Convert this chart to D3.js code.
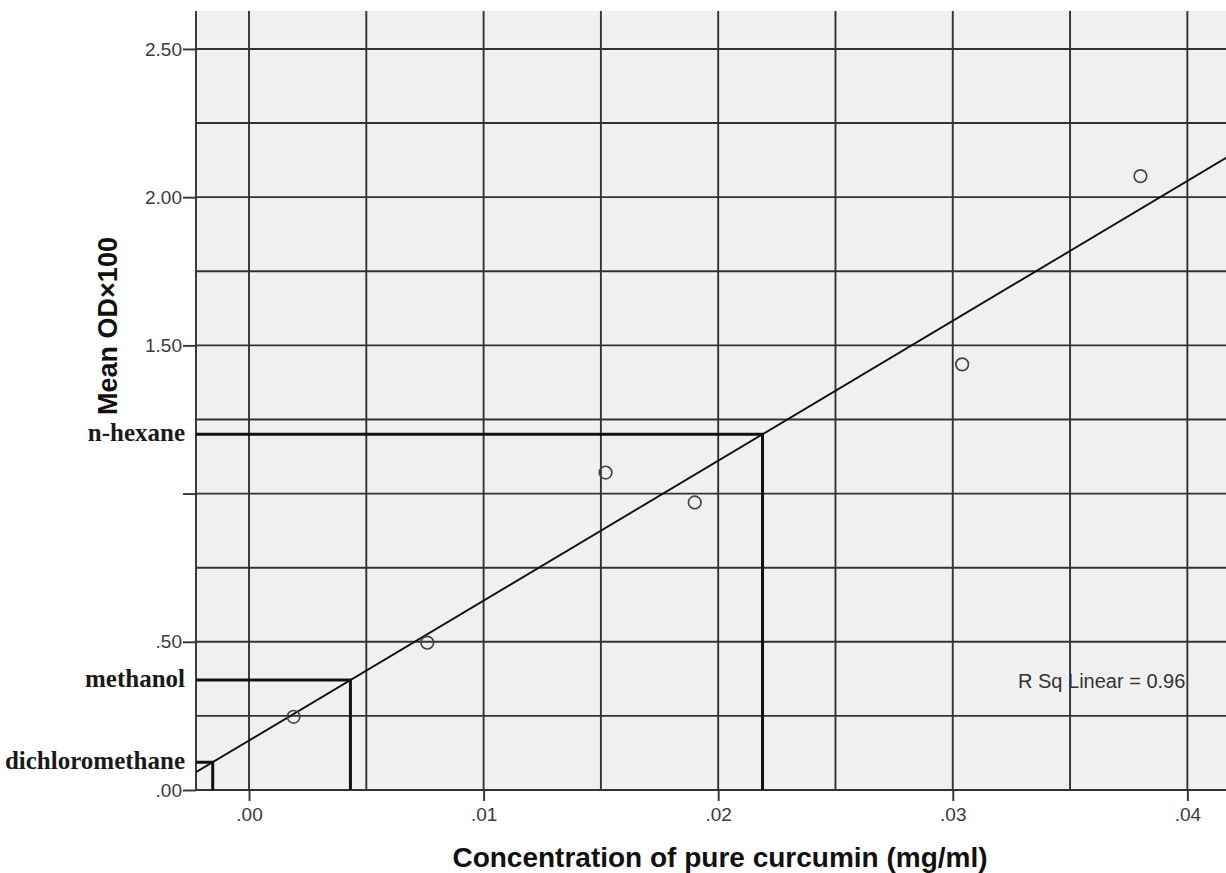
<!DOCTYPE html>
<html>
<head>
<meta charset="utf-8">
<script src="https://cdn.jsdelivr.net/npm/d3@7"></script>
<style>
  body { margin: 0; background: #fff; }
  svg { display: block; }
</style>
</head>
<body>
<svg id="chart" width="1226" height="873"></svg>
<script>
(function() {
  // standards: concentration (mg/ml) vs mean OD x100
  const concentrations = [0.0019, 0.0076, 0.0152, 0.0190, 0.0304, 0.0380];
  const meanOD = [0.247, 0.497, 1.071, 0.970, 1.436, 2.071];

  // extracts read back through the calibration line
  const sampleNames = ['n-hexane', 'methanol', 'dichloromethane'];
  const sampleOD = [1.20, 0.371, 0.094];

  const xTickValues = [0, 0.01, 0.02, 0.03, 0.04];
  const xTickLabels = ['.00', '.01', '.02', '.03', '.04'];
  const yTickValues = [0, 0.5, 1, 1.5, 2, 2.5];
  const yTickLabels = ['.00', '.50', '', '1.50', '2.00', '2.50'];

  const left = 196, top = 11, bottom = 790, right = 1246;

  const x = d3.scaleLinear().domain([-0.00226, 0.0425]).range([left, right]);
  const y = d3.scaleLinear().domain([0, 2.628]).range([bottom, top]);

  // least squares fit
  const mx = d3.mean(concentrations), my = d3.mean(meanOD);
  let sxy = 0, sxx = 0, syy = 0;
  concentrations.forEach((c, i) => {
    sxy += (c - mx) * (meanOD[i] - my);
    sxx += (c - mx) * (c - mx);
    syy += (meanOD[i] - my) * (meanOD[i] - my);
  });
  const slope = sxy / sxx;
  const intercept = my - slope * mx;
  const rsq = (slope * sxy) / syy;

  const svg = d3.select('#chart');

  svg.append('defs').append('clipPath').attr('id', 'plot-clip')
    .append('rect')
    .attr('x', left).attr('y', top)
    .attr('width', right - left).attr('height', bottom - top);

  svg.append('rect')
    .attr('x', left).attr('y', top)
    .attr('width', right - left).attr('height', bottom - top)
    .attr('fill', '#f0f0f0');

  const grid = svg.append('g')
    .attr('stroke', '#333')
    .attr('stroke-width', 1.9);

  grid.selectAll('line.gx')
    .data(d3.range(0, 0.0401, 0.005))
    .enter()
    .append('line')
    .attr('class', 'gx')
    .attr('x1', d => x(d)).attr('x2', d => x(d))
    .attr('y1', top).attr('y2', bottom);

  grid.selectAll('line.gy')
    .data(d3.range(0.25, 2.51, 0.25))
    .enter()
    .append('line')
    .attr('class', 'gy')
    .attr('x1', left).attr('x2', right)
    .attr('y1', d => y(d)).attr('y2', d => y(d));

  // frame (left and bottom axis lines)
  grid.append('line')
    .attr('x1', left).attr('x2', left)
    .attr('y1', top).attr('y2', bottom);
  grid.append('line')
    .attr('x1', left).attr('x2', right)
    .attr('y1', bottom).attr('y2', bottom);

  const xAxis = svg.append('g')
    .attr('transform', `translate(0,${bottom})`)
    .call(d3.axisBottom(x)
      .tickValues(xTickValues)
      .tickFormat((d, i) => xTickLabels[i])
      .tickSize(11)
      .tickPadding(7));

  const yAxis = svg.append('g')
    .attr('transform', `translate(${left},0)`)
    .call(d3.axisLeft(y)
      .tickValues(yTickValues)
      .tickFormat((d, i) => yTickLabels[i])
      .tickSize(13)
      .tickPadding(1));

  [xAxis, yAxis].forEach(ax => {
    ax.select('.domain').remove();
    ax.selectAll('.tick line')
      .attr('stroke', '#333')
      .attr('stroke-width', 1.9);
    ax.selectAll('.tick text')
      .attr('fill', '#3a3a3a')
      .style('font-family', 'Arial, "Liberation Sans", sans-serif')
      .style('font-size', '19px');
  });

  // regression line
  const xd = x.domain();
  svg.append('line')
    .attr('clip-path', 'url(#plot-clip)')
    .attr('x1', x(xd[0])).attr('y1', y(intercept + slope * xd[0]))
    .attr('x2', x(xd[1])).attr('y2', y(intercept + slope * xd[1]))
    .attr('stroke', '#111')
    .attr('stroke-width', 1.9);

  // sample drop lines
  const samples = sampleNames.map((name, i) => ({
    name: name,
    od: sampleOD[i],
    conc: (sampleOD[i] - intercept) / slope
  }));

  svg.append('g')
    .selectAll('path')
    .data(samples)
    .enter()
    .append('path')
    .attr('d', d => `M${left},${y(d.od)}H${x(d.conc)}V${bottom}`)
    .attr('fill', 'none')
    .attr('stroke', '#111')
    .attr('stroke-width', 3);

  svg.append('g')
    .selectAll('text')
    .data(samples)
    .enter()
    .append('text')
    .attr('x', 185)
    .attr('y', d => y(d.od))
    .attr('dy', 7)
    .attr('text-anchor', 'end')
    .attr('fill', '#1a1a1a')
    .style('font-family', '"Liberation Serif", "Times New Roman", serif')
    .style('font-weight', 'bold')
    .style('font-size', '25px')
    .text(d => d.name);

  // standards
  svg.append('g')
    .selectAll('circle')
    .data(concentrations)
    .enter()
    .append('circle')
    .attr('cx', d => x(d))
    .attr('cy', (d, i) => y(meanOD[i]))
    .attr('r', 6.3)
    .attr('fill', 'none')
    .attr('stroke', '#444')
    .attr('stroke-width', 1.7);

  svg.append('text')
    .attr('x', 1018)
    .attr('y', 688)
    .attr('fill', '#333')
    .style('font-family', 'Arial, "Liberation Sans", sans-serif')
    .style('font-size', '20px')
    .text(`R Sq Linear = ${rsq.toFixed(2)}`);

  // axis titles
  svg.append('text')
    .attr('x', 720)
    .attr('y', 867)
    .attr('text-anchor', 'middle')
    .attr('fill', '#111')
    .style('font-family', 'Arial, "Liberation Sans", sans-serif')
    .style('font-weight', 'bold')
    .style('font-size', '28px')
    .text('Concentration of pure curcumin (mg/ml)');

  svg.append('text')
    .attr('transform', 'translate(117,326) rotate(-90)')
    .attr('text-anchor', 'middle')
    .attr('fill', '#111')
    .style('font-family', 'Arial, "Liberation Sans", sans-serif')
    .style('font-weight', 'bold')
    .style('font-size', '27px')
    .text('Mean OD×100');

})();
</script>
</body>
</html>
